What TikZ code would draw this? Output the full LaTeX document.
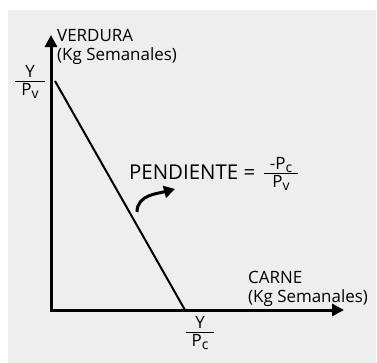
\documentclass[tikz,border=0pt]{standalone}
\usepackage{fontspec}
\setmainfont{Open Sans}
\usetikzlibrary{arrows.meta}

\definecolor{panelgray}{HTML}{EEEEEE}

% fraction written as a small table with a rule
\newcommand{\lowsub}[1]{\raisebox{-3bp}{\fontsize{14}{14}\selectfont #1}}
\newcommand{\fracbox}[2]{%
  \begin{tabular}{@{\hspace{6pt}}c@{\hspace{6pt}}}#1\\[-2pt]\hline\rule{0pt}{15pt}#2\end{tabular}}

\tikzset{
  axis/.style={line width=3bp, {Triangle[length=12bp,width=12bp]}-{Triangle[length=12bp,width=12bp]}},
  budget/.style={line width=2bp},
  curvearr/.style={line width=3bp, -{Triangle[length=11bp,width=12bp]}},
  lbl/.style={font=\fontsize{17}{19}\selectfont, inner sep=0pt, align=left},
  fraclbl/.style={font=\fontsize{17}{18}\selectfont, inner sep=0pt},
  biglbl/.style={font=\fontsize{20.5}{23}\selectfont, inner sep=0pt}
}

\begin{document}
\begin{tikzpicture}[x=1bp,y=-1bp]
	
	\useasboundingbox (0,0) rectangle (377,363);
	\fill[panelgray] (8,10) rectangle (376,363);
	
	% The axes
	\coordinate (O) at (51,310);
	\coordinate (ytip) at (51,35);
	\coordinate (xtip) at (344,310);
	\draw [axis] (ytip) -- (O) -- (xtip);
	
	% The budget line
	\coordinate (vmax) at (55,81);
	\coordinate (cmax) at (185,310);
	\draw [budget] (vmax) -- (cmax);
	
	% Axis labels
	\node (verdura) [lbl,anchor=north west] at (57,29) {VERDURA\\(Kg Semanales)};
	\node (carne) [lbl,anchor=north west] at (248,271) {CARNE\\(Kg Semanales)};
	
	% Intercepts
	\node (yv) [fraclbl] at (30,83) {\fracbox{Y}{P\lowsub{v}}};
	\node (yc) [fraclbl] at (200,334) {\fracbox{Y}{P\lowsub{c}}};
	
	% Slope
	\node (pend) [biglbl,anchor=base west] at (129,179) {PENDIENTE =};
	\node (slope) [fraclbl] at (281,175) {\fracbox{-P\lowsub{c}}{P\lowsub{v}}};
	\coordinate (cstart) at (137,212);
	\coordinate (ctip) at (175,189);
	\draw [curvearr] (cstart) to[out=90,in=195] (ctip);
	
\end{tikzpicture}
\end{document}
